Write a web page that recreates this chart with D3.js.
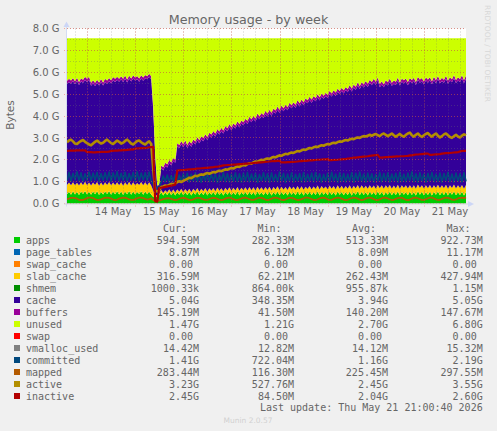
<!DOCTYPE html>
<html><head><meta charset="utf-8">
<script src="https://cdn.jsdelivr.net/npm/d3@7/dist/d3.min.js"></script>
<style>html,body{margin:0;padding:0;background:#f0f0f0}svg{display:block}</style></head>
<body><svg id="c" width="497" height="431"></svg>
<script>
const seriesNames=["apps","page_tables","swap_cache","slab_cache","shmem","cache","buffers","unused","swap","vmalloc_used","committed","mapped","active","inactive"];
const seriesColors=["#00CC00","#0066B3","#FF8000","#FFCC00","#008F00","#330099","#990099","#CCFF00","#FF0000","#808080","#00487D","#B35A00","#B38F00","#B30000"];
const curLabels=["594.59M","8.87M","0.00","316.59M","1000.33k","5.04G","145.19M","1.47G","0.00","14.42M","1.41G","283.44M","3.23G","2.45G"];
const minLabels=["282.33M","6.12M","0.00","62.21M","864.00k","348.35M","41.50M","1.21G","0.00","12.82M","722.04M","116.30M","527.76M","84.50M"];
const avgLabels=["513.33M","8.09M","0.00","262.43M","955.87k","3.94G","140.20M","2.70G","0.00","14.12M","1.16G","225.45M","2.45G","2.04G"];
const maxLabels=["922.73M","11.17M","0.00","427.94M","1.15M","5.05G","147.67M","6.80G","0.00","15.32M","2.19G","297.55M","3.55G","2.60G"];
const yTicks=[0,1,2,3,4,5,6,7,8];
const dayLabels=["2026-05-14","2026-05-15","2026-05-16","2026-05-17","2026-05-18","2026-05-19","2026-05-20","2026-05-21"];
const memTotal=7.56;
// values in G, one sample per hour
const apps=[
.42,.54,.40,.56,.41,.53,.39,.55,.43,.57,.41,.54,.40,.55,.42,.56,.39,.53,.41,.55,
.43,.57,.40,.54,.42,.56,.41,.55,.39,.54,.42,.57,.40,.55,.41,.53,.43,.56,.40,.55,
.42,.54,.41,.30,.29,.32,.38,.52,.37,.50,.39,.53,.38,.51,.37,.52,.40,.54,.38,.51,
.39,.53,.37,.52,.40,.55,.38,.51,.39,.54,.37,.52,.40,.53,.38,.55,.39,.51,.37,.53,
.40,.54,.38,.52,.39,.55,.37,.51,.40,.53,.38,.54,.39,.52,.37,.55,.40,.51,.38,.53,
.39,.54,.37,.52,.40,.55,.38,.53,.39,.51,.37,.54,.40,.52,.38,.55,.39,.53,.37,.51,
.40,.54,.38,.52,.39,.55,.37,.53,.40,.51,.38,.54,.39,.52,.37,.55,.40,.53,.38,.51,
.39,.54,.37,.52,.40,.56,.38,.53,.39,.51,.37,.54,.40,.52,.38,.55,.39,.53,.37,.52,
.40,.54,.38,.52,.39,.55,.37,.53,.40,.52,.38,.54,.39,.52,.37,.56,.40,.53,.38,.52,
.39,.54,.37,.53,.40,.55,.38,.52,.39,.54,.37,.53,.40,.55,.38,.52,.39,.54,.37,.53];
const slabCache=[
.43,.42,.43,.41,.42,.42,.43,.42,.41,.42,.43,.42,.42,.41,.43,.42,.42,.43,.41,.42,
.42,.41,.43,.42,.42,.41,.43,.42,.42,.43,.41,.42,.42,.42,.43,.41,.42,.42,.43,.42,
.42,.43,.41,.30,.08,.06,.09,.10,.11,.11,.12,.12,.12,.13,.13,.13,.14,.14,.14,.15,
.15,.15,.15,.16,.16,.16,.16,.17,.17,.17,.17,.18,.18,.18,.18,.18,.19,.19,.19,.19,
.19,.20,.20,.20,.20,.20,.21,.21,.21,.21,.21,.22,.22,.22,.22,.22,.22,.23,.23,.23,
.23,.23,.23,.23,.24,.24,.24,.24,.24,.24,.25,.25,.25,.25,.25,.25,.25,.26,.26,.26,
.26,.26,.26,.26,.27,.27,.27,.27,.27,.27,.27,.28,.28,.28,.28,.28,.28,.28,.28,.29,
.29,.29,.29,.29,.29,.29,.29,.30,.30,.30,.30,.30,.30,.30,.30,.30,.31,.31,.31,.31,
.31,.31,.30,.30,.30,.31,.31,.31,.31,.31,.31,.30,.31,.31,.31,.31,.31,.30,.31,.31,
.31,.31,.32,.31,.31,.31,.32,.31,.31,.32,.31,.31,.31,.32,.31,.31,.32,.31,.31,.32];
const cache=[
4.62,4.60,4.64,4.63,4.62,4.66,4.60,4.62,4.68,4.66,4.72,4.70,4.56,4.54,4.52,4.54,4.58,4.60,4.57,4.59,
4.63,4.61,4.66,4.68,4.72,4.69,4.73,4.71,4.75,4.73,4.70,4.72,4.76,4.74,4.78,4.75,4.72,4.74,4.78,4.76,
4.84,4.82,4.86,3.70,1.80,.40,.36,1.00,1.04,1.11,1.14,1.21,1.24,1.30,1.36,1.98,2.00,2.04,2.05,2.09,
2.00,2.04,2.07,2.11,2.14,2.18,2.22,2.25,2.29,2.32,2.36,2.40,2.43,2.47,2.50,2.54,2.57,2.61,2.64,2.68,
2.71,2.74,2.77,2.81,2.84,2.87,2.90,2.94,2.97,3.00,3.04,3.07,3.10,3.13,3.16,3.20,3.23,3.26,3.30,3.33,
3.36,3.38,3.41,3.44,3.47,3.50,3.53,3.56,3.59,3.62,3.64,3.67,3.70,3.72,3.75,3.78,3.80,3.83,3.86,3.89,
3.92,3.94,3.97,3.99,4.02,4.04,4.07,4.09,4.12,4.14,4.17,4.19,4.22,4.24,4.27,4.29,4.32,4.34,4.37,4.39,
4.41,4.44,4.46,4.49,4.51,4.54,4.56,4.59,4.61,4.64,4.66,4.68,4.71,4.73,4.75,4.78,4.62,4.60,4.63,4.66,
4.68,4.72,4.70,4.66,4.73,4.76,4.71,4.74,4.78,4.75,4.72,4.76,4.80,4.78,4.74,4.79,4.81,4.77,4.75,4.80,
4.82,4.78,4.76,4.81,4.79,4.83,4.80,4.77,4.82,4.84,4.80,4.78,4.83,4.86,4.82,4.79,4.84,4.87,4.83,4.85];
const buffers=[
.14,.14,.15,.14,.14,.14,.13,.14,.14,.15,.14,.14,.14,.14,.15,.14,.14,.13,.14,.14,
.14,.15,.14,.14,.14,.14,.13,.14,.14,.15,.14,.14,.14,.15,.14,.14,.14,.14,.15,.14,
.14,.14,.14,.12,.06,.04,.05,.13,.14,.14,.14,.14,.14,.14,.14,.14,.14,.14,.14,.14,
.14,.14,.15,.14,.14,.14,.14,.15,.14,.14,.14,.14,.15,.14,.14,.14,.14,.15,.14,.14,
.14,.15,.14,.14,.14,.14,.15,.14,.14,.14,.15,.14,.14,.14,.14,.15,.14,.14,.14,.15,
.14,.14,.14,.15,.14,.14,.14,.15,.14,.14,.14,.15,.14,.14,.14,.15,.14,.14,.14,.15,
.14,.14,.15,.14,.14,.14,.15,.14,.14,.14,.15,.14,.14,.14,.15,.14,.14,.14,.15,.14,
.14,.15,.14,.14,.14,.15,.14,.14,.14,.15,.14,.14,.14,.15,.14,.14,.14,.15,.14,.14,
.15,.14,.14,.14,.15,.14,.14,.14,.15,.14,.14,.14,.15,.14,.14,.14,.15,.14,.14,.14,
.15,.14,.14,.14,.15,.14,.14,.15,.14,.14,.14,.15,.14,.14,.14,.15,.14,.14,.14,.15];
const committed=[
1.05,1.42,1.02,1.38,1.08,1.45,1.04,1.40,1.00,1.36,1.06,1.44,1.03,1.39,1.07,1.43,1.01,1.37,1.05,1.41,
1.06,1.44,1.03,1.40,1.08,1.46,1.02,1.38,1.05,1.43,1.00,1.37,1.06,1.42,1.04,1.45,1.02,1.39,1.07,1.41,
1.04,1.44,1.02,.90,.74,.72,.78,.98,1.26,1.00,1.30,.96,1.28,1.02,1.33,.98,1.30,1.00,1.36,1.03,
1.38,.98,1.34,1.02,1.40,1.00,1.36,.97,1.32,1.03,1.41,.99,1.35,1.01,1.38,.96,1.33,1.04,1.42,1.00,
1.37,.98,1.34,1.02,1.40,1.00,1.36,.97,1.39,1.03,1.42,.99,1.35,1.01,1.38,.96,1.33,1.04,1.41,1.00,
1.36,.97,1.40,1.02,1.33,.99,1.44,1.04,1.38,.96,1.35,1.01,1.40,.98,1.34,1.03,1.37,.97,1.41,1.00,
1.34,1.02,1.39,.98,1.42,1.04,1.36,.97,1.33,1.01,1.38,.99,1.43,1.03,1.35,.96,1.40,1.02,1.37,.98,
1.34,1.01,1.41,.97,1.38,1.04,1.44,1.00,1.35,.98,1.39,1.02,1.36,.97,1.33,1.03,1.42,.99,1.37,1.01,
1.40,.98,1.35,1.03,1.38,.97,1.43,1.01,1.34,.99,1.39,1.04,1.45,1.00,1.36,.97,1.41,1.02,1.35,.98,
1.38,1.03,1.42,.99,1.34,1.01,1.40,.97,1.37,1.04,1.43,1.00,1.35,.98,1.39,1.02,1.36,.99,1.41,1.01];
const mapped=[
.20,.22,.26,.26,.25,.22,.17,.16,.17,.20,.25,.27,.27,.25,.20,.17,.17,.19,.23,.26,
.27,.26,.22,.18,.16,.18,.22,.25,.27,.26,.23,.19,.17,.17,.20,.24,.27,.27,.25,.21,
.18,.20,.24,.16,.12,.12,.13,.17,.20,.22,.24,.24,.21,.18,.16,.17,.21,.25,.26,.24,
.20,.17,.16,.19,.23,.26,.26,.23,.19,.17,.17,.20,.24,.26,.25,.21,.17,.16,.18,.22,
.26,.27,.24,.20,.17,.16,.19,.23,.26,.27,.24,.20,.17,.17,.20,.24,.27,.26,.22,.18,
.16,.18,.22,.26,.27,.25,.21,.17,.16,.18,.23,.26,.26,.23,.19,.16,.17,.20,.24,.27,
.27,.24,.20,.17,.16,.19,.23,.26,.27,.24,.19,.17,.17,.21,.25,.27,.26,.22,.18,.16,
.17,.21,.25,.27,.26,.22,.18,.16,.18,.22,.26,.27,.25,.20,.17,.16,.19,.24,.27,.26,
.23,.19,.16,.17,.21,.25,.27,.26,.21,.17,.16,.18,.23,.26,.27,.24,.20,.17,.17,.20,
.24,.27,.27,.23,.19,.17,.17,.21,.25,.27,.26,.22,.18,.17,.19,.23,.26,.27,.25,.28];
const active=[
2.80,2.88,2.92,2.84,2.74,2.72,2.80,2.86,2.90,2.82,2.76,2.70,2.66,2.74,2.82,2.88,2.80,2.74,2.78,2.86,
2.92,2.84,2.76,2.72,2.80,2.88,2.82,2.74,2.78,2.86,2.92,2.84,2.74,2.70,2.78,2.86,2.88,2.80,2.74,2.70,
2.78,2.84,2.72,1.60,.58,.55,.60,.75,.78,.82,.80,.85,.90,.88,.92,.98,1.02,.98,1.04,1.08,
1.12,1.18,1.16,1.22,1.27,1.25,1.30,1.33,1.31,1.36,1.39,1.36,1.40,1.44,1.42,1.47,1.50,1.48,1.52,1.56,
1.54,1.59,1.62,1.60,1.65,1.69,1.67,1.72,1.76,1.74,1.80,1.84,1.82,1.88,1.92,1.90,1.96,2.00,1.98,2.03,
2.06,2.04,2.09,2.13,2.11,2.16,2.20,2.18,2.23,2.27,2.25,2.30,2.33,2.31,2.36,2.40,2.38,2.43,2.47,2.45,
2.50,2.54,2.52,2.57,2.60,2.58,2.63,2.66,2.64,2.69,2.72,2.70,2.75,2.78,2.76,2.81,2.84,2.82,2.87,2.90,
2.88,2.93,2.96,2.94,2.99,3.02,3.00,3.05,3.08,3.06,3.10,3.14,3.10,3.14,3.18,3.12,3.08,3.16,3.20,3.14,
3.08,3.14,3.20,3.12,3.06,3.12,3.18,3.10,3.05,3.14,3.20,3.24,3.12,3.06,3.14,3.20,3.10,3.04,3.12,3.18,
3.22,3.12,3.06,3.14,3.20,3.10,3.02,3.08,3.16,3.20,3.12,3.04,3.00,3.08,3.14,3.06,3.02,3.10,3.16,3.12];
const inactive=[
2.41,2.41,2.42,2.42,2.42,2.43,2.43,2.43,2.43,2.43,2.35,2.35,2.35,2.34,2.34,2.35,2.35,2.36,2.36,2.36,
2.36,2.37,2.41,2.41,2.42,2.42,2.43,2.43,2.44,2.44,2.45,2.46,2.47,2.47,2.51,2.52,2.52,2.53,2.53,2.53,
2.55,2.57,2.58,2.59,.10,.08,.72,.72,.74,.76,.78,.80,.82,.84,.86,1.50,1.52,1.53,1.53,1.54,
1.55,1.56,1.56,1.57,1.58,1.60,1.60,1.61,1.62,1.63,1.63,1.64,1.65,1.66,1.68,1.68,1.70,1.72,1.74,1.75,
1.76,1.76,1.77,1.78,1.78,1.79,1.80,1.80,1.81,1.82,1.82,1.83,1.84,1.85,1.86,1.87,1.88,1.88,1.89,1.90,
1.91,1.92,1.93,1.94,1.94,1.95,1.95,1.88,1.88,1.88,1.89,1.89,1.90,1.90,1.91,1.92,1.93,1.94,1.95,1.95,
1.96,1.97,1.97,1.98,1.99,2.00,2.00,2.01,2.02,2.02,2.03,1.98,1.98,1.99,1.99,2.00,2.01,2.02,2.03,2.03,
2.05,2.06,2.08,2.10,2.10,2.11,2.12,2.13,2.14,2.15,2.16,2.18,2.19,2.20,2.21,2.22,2.10,2.10,2.11,2.12,
2.12,2.13,2.13,2.14,2.15,2.15,2.16,2.16,2.16,2.17,2.18,2.20,2.20,2.22,2.24,2.24,2.25,2.26,2.27,2.28,
2.28,2.22,2.22,2.24,2.25,2.25,2.26,2.28,2.29,2.30,2.30,2.31,2.32,2.33,2.34,2.35,2.38,2.40,2.41,2.41];

const HOUR=3600e3, t0=Date.UTC(2026,4,13,14);
const rows=apps.map((a,i)=>({
  t:new Date(t0+i*HOUR),apps:a,slab_cache:slabCache[i],cache:cache[i],buffers:buffers[i],
  unused:memTotal-a-slabCache[i]-cache[i]-buffers[i],
  committed:committed[i],mapped:mapped[i],active:active[i],inactive:inactive[i]}));
const color=n=>seriesColors[seriesNames.indexOf(n)];
const L=67,R=466,T=28.5,B=203.5;
const x=d3.scaleUtc().domain([new Date(t0),new Date(t0+199*HOUR)]).range([L,R]);
const y=d3.scaleLinear().domain([0,8]).range([B,T]);
const svg=d3.select("#c");
const GREY="#666";
svg.append("rect").attr("x",L).attr("y",T).attr("width",R-L).attr("height",B-T).attr("fill","#fff");

const stack=d3.stack().keys(["apps","slab_cache","cache","buffers","unused"])(rows);
const area=d3.area().x(d=>x(d.data.t)).y0(d=>y(d[0])).y1(d=>y(d[1]));
svg.append("g").selectAll("path").data(stack).join("path")
  .attr("d",area).attr("fill",d=>color(d.key));
const lineFor=k=>d3.line().x(d=>x(d.t)).y(d=>y(d[k]))(rows);
[["committed",1.6],["mapped",1.8],["active",2.6],["inactive",2.2]].forEach(([k,w])=>{
  svg.append("path").attr("d",lineFor(k)).attr("fill","none").attr("stroke",color(k)).attr("stroke-width",w).attr("stroke-linejoin","round");
});

// grid over the marks
const gridG=svg.append("g").attr("fill","none");
const minorX=d3.utcHour.every(6).range(new Date(t0),new Date(t0+200*HOUR));
const majorX=d3.utcDay.range(new Date(t0),new Date(t0+200*HOUR));
const minorY=d3.range(0,8.01,0.5);
const MINOR="rgba(110,110,110,.35)", MAJOR="rgba(240,70,50,.42)";
minorX.forEach(d=>gridG.append("line").attr("x1",Math.round(x(d))+.5).attr("x2",Math.round(x(d))+.5).attr("y1",T).attr("y2",B)
  .attr("stroke",MINOR).attr("stroke-dasharray","1,2"));
minorY.forEach(v=>gridG.append("line").attr("x1",L).attr("x2",R).attr("y1",Math.floor(y(v))+.5).attr("y2",Math.floor(y(v))+.5)
  .attr("stroke",MINOR).attr("stroke-dasharray","1,2"));
majorX.forEach(d=>gridG.append("line").attr("x1",Math.round(x(d))+.5).attr("x2",Math.round(x(d))+.5).attr("y1",T).attr("y2",B+3)
  .attr("stroke",MAJOR).attr("stroke-dasharray","1,2"));
yTicks.forEach(v=>gridG.append("line").attr("x1",L-3).attr("x2",R).attr("y1",Math.floor(y(v))+.5).attr("y2",Math.floor(y(v))+.5)
  .attr("stroke",MAJOR).attr("stroke-dasharray","1,2"));

// axes
const yAxis=d3.axisLeft(y).tickValues(yTicks).tickFormat(d=>d3.format(".1f")(d)+" G").tickSize(0).tickPadding(7.5);
const gy=svg.append("g").attr("transform",`translate(${L},0)`).call(yAxis);
gy.select(".domain").remove();
gy.selectAll("text").attr("font-family","'DejaVu Sans'").attr("font-size",10).attr("fill",GREY);
const noons=dayLabels.map(s=>new Date(s+"T12:00:00Z"));
const xAxis=d3.axisBottom(x).tickValues(noons).tickFormat(d3.utcFormat("%d May")).tickSize(0).tickPadding(4);
const gx=svg.append("g").attr("transform",`translate(1.5,${B})`).call(xAxis);
gx.select(".domain").remove();
gx.selectAll("text").attr("font-family","'DejaVu Sans'").attr("font-size",10).attr("fill",GREY);

// axis frame and arrows
svg.append("line").attr("x1",L-.5).attr("x2",L-.5).attr("y1",T-2).attr("y2",B+3).attr("stroke","#d4dcf2");
svg.append("line").attr("x1",L-3).attr("x2",R+2).attr("y1",B+.5).attr("y2",B+.5).attr("stroke","#d4d4dc");
svg.append("path").attr("d",`M${L-.5} 21.5L${L+2.5} 27L${L-3.5} 27Z`).attr("fill","#ccd6f6");
svg.append("path").attr("d",`M474 ${B+.5}L468 ${B-2.5}L468 ${B+3.5}Z`).attr("fill","#ccd6f6");

// titles
svg.append("text").attr("x",248.5).attr("y",24).attr("text-anchor","middle").attr("font-family","'DejaVu Sans'").attr("font-size",12.7).attr("fill",GREY).text("Memory usage - by week");
svg.append("text").attr("transform","translate(13.5,115) rotate(-90)").attr("text-anchor","middle").attr("font-family","'DejaVu Sans'").attr("font-size",10.5).attr("fill",GREY).text("Bytes");
svg.append("text").attr("transform","translate(484.5,5) rotate(90)").attr("font-family","'DejaVu Sans'").attr("font-size",7.5).attr("fill","#d8d8d8").attr("textLength",97).text("RRDTOOL / TOBI OETIKER");

// legend
const mono="'DejaVu Sans Mono'";
const tx=(xp,yp,s,anchor,fill)=>svg.append("text").attr("x",xp).attr("y",yp).attr("text-anchor",anchor||"start")
  .attr("font-family",mono).attr("font-size",10).attr("fill",fill||GREY).text(s);
[["Cur:",163],["Min:",257.5],["Avg:",352],["Max:",446.5]].forEach(([s,xp])=>tx(xp,231.5,s));
const rowY=i=>240+i*12;
const endX=(s,c)=>/[0-9]$/.test(s)?c-6:c;
seriesNames.forEach((n,i)=>{
  svg.append("rect").attr("x",14).attr("y",rowY(i)-3).attr("width",6).attr("height",6).attr("fill",seriesColors[i]);
  tx(26,rowY(i)+3.5,n);
  [[curLabels,199],[minLabels,294],[avgLabels,388],[maxLabels,482.7]].forEach(([arr,c])=>tx(endX(arr[i],c),rowY(i)+3.5,arr[i],"end"));
});
tx(482.7,411,"Last update: Thu May 21 21:00:40 2026","end");
svg.append("text").attr("x",248).attr("y",423).attr("text-anchor","middle").attr("font-family","'DejaVu Sans'").attr("font-size",7.5).attr("fill","#d0d0d0").text("Munin 2.0.57");
</script></body></html>
